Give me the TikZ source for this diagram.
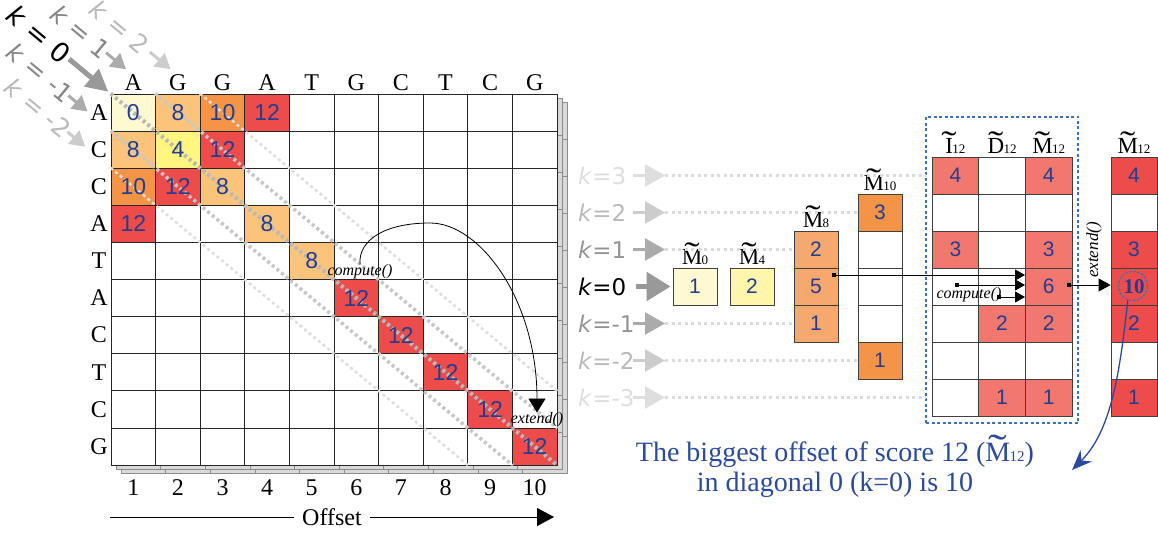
\documentclass[tikz,border=0pt]{standalone}
\usepackage{graphicx}
\usepackage{fontspec}
\setmainfont{Liberation Serif}
\setsansfont{Liberation Sans}
\newfontfamily\dejavu{DejaVu Sans}
\usepackage{xcolor}
\usepackage{tikz}
\usetikzlibrary{arrows.meta,positioning,calc}

\definecolor{numblue}{HTML}{233D8F}
\definecolor{txtblue}{HTML}{2B4A9C}
\definecolor{boxblue}{HTML}{3D72B8}
\definecolor{cream}{HTML}{FFF9D2}
\definecolor{lemon}{HTML}{FFF57F}
\definecolor{paleyel}{HTML}{FFF6AC}
\definecolor{lorange}{HTML}{FBC47A}
\definecolor{morange}{HTML}{F59447}
\definecolor{sorange}{HTML}{F7A86E}
\definecolor{salmon}{HTML}{F2786F}
\definecolor{hotred}{HTML}{EE4B4B}

% tilde symbol with small index
\newcommand{\tld}[3][13]{\ooalign{#2\cr\hidewidth\scalebox{2}[1.4]{\char"02DC}\hidewidth\cr}\kern-0.5pt{\fontsize{#1}{#1}\selectfont #3}}

\begin{document}
\begin{tikzpicture}[
    x=1pt, y=-1pt,
    cell/.style={draw=black!85, line width=0.8pt, minimum width=44.6pt, minimum height=37.1pt, inner sep=0pt, text=numblue, font=\sffamily\fontsize{23}{23}\selectfont},
    num/.style={inner sep=0pt, text=numblue, font=\sffamily\fontsize{23}{23}\selectfont},
    slot/.style={cell, draw=black!75, minimum width=44pt, minimum height=37pt, font=\sffamily\fontsize{21}{21}\selectfont},
    wslot/.style={slot, minimum width=46.7pt},
    base/.style={font=\fontsize{24}{24}\selectfont, inner sep=1pt},
    head/.style={font=\fontsize{23}{23}\selectfont, inner sep=1pt},
    fn/.style={font=\itshape\fontsize{16}{16}\selectfont, inner sep=0pt},
    diag/.style={line width=3.5pt, dash pattern=on 3pt off 3pt},
    kdiag/.style={font=\dejavu\fontsize{25}{25}\selectfont, inner sep=0pt, rotate=-39.8},
    kdarr/.style={-{Triangle[length=15pt,width=17pt]}, line width=3pt},
    krow/.style={font=\dejavu\fontsize{23}{23}\selectfont, inner sep=0pt, anchor=west},
    karr/.style={-{Triangle[length=20pt,width=22pt]}, line width=2.5pt},
    trail/.style={black!14, line width=3pt, dash pattern=on 3pt off 3.5pt},
    link/.style={{Square[length=4pt,width=4pt]}-{Triangle[length=10pt,width=11pt]}, line width=0.8pt},
]
\useasboundingbox (0,0) rectangle (1158,534);

% Stacked matrices behind
\foreach \dx/\dy in {10/8, 5/4} {
  \draw[black!45, fill=black!15, line width=0.8pt] ({111+\dx},{94+\dy}) rectangle ({557+\dx},{465+\dy});
  \foreach \i in {1,...,9} {
    \draw[black!45] ({111+44.6*\i+\dx},{94+\dy}) -- ++(0,371);
    \draw[black!45] ({111+\dx},{94+37.1*\i+\dy}) -- ++(446,0);
  }
}

% Matrix cells
\foreach \r in {1,...,10}
  \foreach \c in {1,...,10}
    \node[cell, fill=white] (m\r-\c) at ({111+44.6*(\c-0.5)},{94+37.1*(\r-0.5)}) {};

\foreach \r/\c/\f in {1/1/cream, 1/2/lorange, 1/3/morange, 1/4/hotred,
    2/1/lorange, 2/2/lemon, 2/3/hotred, 3/1/morange, 3/2/hotred, 3/3/lorange,
    4/1/hotred, 4/4/lorange, 5/5/lorange, 6/6/hotred, 7/7/hotred,
    8/8/hotred, 9/9/hotred, 10/10/hotred}
  \node[cell, fill=\f] (v\r-\c) at (m\r-\c) {};

% Diagonals
\coordinate (d0) at (m1-1.north west);  \coordinate (e0) at (m10-10.south east);
\coordinate (d1) at (m1-2.north west);  \coordinate (e1) at (m9-10.south east);
\coordinate (d2) at (m1-3.north west);  \coordinate (e2) at (m8-10.south east);
\coordinate (dm1) at (m2-1.north west); \coordinate (em1) at (m10-9.south east);
\coordinate (dm2) at (m3-1.north west); \coordinate (em2) at (m10-8.south east);
\draw[diag, black!13, line width=2.5pt] (d2) -- (e2);
\draw[diag, black!13, line width=2.5pt] (dm2) -- (em2);
\draw[diag, black!22] (d1) -- (e1);
\draw[diag, black!22] (dm1) -- (em1);
\draw[diag, black!28, line width=4pt] (d0) -- (e0);

% Scores
\foreach \r/\c/\v in {1/1/0, 1/2/8, 1/3/10, 1/4/12, 2/1/8, 2/2/4, 2/3/12, 3/1/10, 3/2/12, 3/3/8,
    4/1/12, 4/4/8, 5/5/8, 6/6/12, 7/7/12, 8/8/12, 9/9/12, 10/10/12}
  \node[num] (n\r-\c) at (m\r-\c) {\v};

% Sequences
\foreach \c/\b in {1/A,2/G,3/G,4/A,5/T,6/G,7/C,8/T,9/C,10/G}
  \node[base, anchor=base] (top\c) at ({111+44.6*(\c-0.5)},91) {\b};
\foreach \r/\b in {1/A,2/C,3/C,4/A,5/T,6/A,7/C,8/T,9/C,10/G}
  \node[base] (left\r) at (99,{94+37.1*(\r-0.5)}) {\b};
\foreach \c in {1,...,10}
  \node[base] (off\c) at ({111+44.6*(\c-0.5)},488) {\c};

% Offset axis
\node[base, inner xsep=8pt] (offset) at (332,517) {Offset};
\coordinate (axl) at (110,517);
\coordinate (axr) at (554,517);
\draw[line width=0.8pt] (axl) -- (offset.west);
\draw[line width=0.8pt, -{Triangle[length=17pt,width=18pt]}] (offset.east) -- (axr);

% Diagonal labels
\node[kdiag] (kl0) at ($(d0)!-93pt!(e0)$) {\fontsize{27}{27}\selectfont\textit{k} = 0};
\coordinate (kt0) at ($(d0)!-54pt!(e0)$);
\coordinate (kh0) at ($(d0)!-3pt!(e0)$);
\draw[kdarr, black!40, line width=5pt, -{Triangle[length=22pt,width=22pt]}] (kt0) -- (kh0);

\node[kdiag, text=black!47] (kl1) at ($(d1)!-97pt!(e1)$) {\textit{k} = 1};
\coordinate (kt1) at ($(d1)!-64pt!(e1)$);
\coordinate (kh1) at ($(d1)!-38pt!(e1)$);
\draw[kdarr, black!33] (kt1) -- (kh1);

\node[kdiag, text=black!27] (kl2) at ($(d2)!-104pt!(e2)$) {\textit{k} = 2};
\coordinate (kt2) at ($(d2)!-65pt!(e2)$);
\coordinate (kh2) at ($(d2)!-38pt!(e2)$);
\draw[kdarr, black!20] (kt2) -- (kh2);

\node[kdiag, text=black!47] (klm1) at ($(dm1)!-91pt!(em1)$) {\textit{k} = -1};
\coordinate (ktm1) at ($(dm1)!-55pt!(em1)$);
\coordinate (khm1) at ($(dm1)!-30pt!(em1)$);
\draw[kdarr, black!33] (ktm1) -- (khm1);

\node[kdiag, text=black!27] (klm2) at ($(dm2)!-94pt!(em2)$) {\textit{k} = -2};
\coordinate (ktm2) at ($(dm2)!-56pt!(em2)$);
\coordinate (khm2) at ($(dm2)!-33pt!(em2)$);
\draw[kdarr, black!20] (ktm2) -- (khm2);

% compute / extend in matrix
\node[fn] (cmp1) at (360,272) {compute()};
\node[fn] (ext1) at (537,420) {extend()};
\draw[line width=0.8pt, -{Triangle[length=14pt,width=17pt]}] (cmp1.north) .. controls (358,240) and (385,223) .. (430,223) .. controls (480,223) and (537,300) .. (ext1.north);

% Right: diagonal rows
\foreach \k/\tc in {3/black!13, 2/black!27, 1/black!42, -1/black!42, -2/black!27, -3/black!13} {
  \node[krow, text=\tc] (kr\k) at (578,{286.5-37*\k}) {\textit{k}=\k};
  \coordinate (kt\k) at (633,{286.5-37*\k});
  \coordinate (kh\k) at (665,{286.5-37*\k});
}
\node[krow] (kr0) at (578,286.5) {\textit{k}=0};

% Buffers
\node[slot, fill=cream] (m0) at (695,286.5) {1};
\node[slot, fill=paleyel] (m4) at (752,286.5) {2};
\node[slot, fill=sorange] (m8a) at (816,249.5) {2};
\node[slot, fill=sorange] (m8b) at (816,286.5) {5};
\node[slot, fill=sorange] (m8c) at (816,323.5) {1};
\node[slot, fill=morange] (m10a) at (880,212.5) {3};
\node[slot, fill=white] (m10b) at (880,249.5) {};
\node[slot, fill=white] (m10c) at (880,286.5) {};
\node[slot, fill=white] (m10d) at (880,323.5) {};
\node[slot, fill=morange] (m10e) at (880,360.5) {1};

\node[head, above=2pt of m0] (hm0) {\tld{M}{0}};
\node[head, above=2pt of m4] (hm4) {\tld{M}{4}};
\node[head, above=2pt of m8a] (hm8) {\tld{M}{8}};
\node[head, above=2pt of m10a] (hm10) {\tld{M}{10}};

% Group box
\node[draw=boxblue, line width=1.5pt, dash pattern=on 3pt off 2.5pt, minimum width=152pt, minimum height=306pt, inner sep=0pt] (grp) at (1002,270) {};
\foreach \k in {3,2,1,0,-1,-2,-3} {
  \node[wslot, fill=white] (bi\k) at (955.35,{286.5-37*\k}) {};
  \node[wslot, fill=white] (bd\k) at (1002.05,{286.5-37*\k}) {};
  \node[wslot, fill=white] (bm\k) at (1048.75,{286.5-37*\k}) {};
  \node[wslot, minimum width=46pt, fill=white] (rm\k) at (1134,{286.5-37*\k}) {};
}
\foreach \c/\k/\v in {i/3/4, m/3/4, i/1/3, m/1/3, m/0/6, d/-1/2, m/-1/2, d/-3/1, m/-3/1}
  \node[wslot, fill=salmon] (f\c\k) at (b\c\k) {\v};
\foreach \k/\v in {3/4, 1/3, 0/{\rmfamily\bfseries 10}, -1/2, -3/1}
  \node[wslot, minimum width=46pt, fill=hotred] (fr\k) at (rm\k) {\v};

\node[head, above=2pt of bi3] (hi12) {\tld{I}{12}};
\node[head, above=2pt of bd3] (hd12) {\tld{D}{12}};
\node[head, above=2pt of bm3] (hmm12) {\tld{M}{12}};
\node[head, above=2pt of rm3] (hr12) {\tld{M}{12}};

% Trails and arrows
\draw[trail] (kh3) -- (grp.west |- kh3);
\draw[trail] (kh2) -- (m10a.west);
\draw[trail] (kh1) -- (m8a.west);
\draw[trail] (kh-1) -- (m8c.west);
\draw[trail] (kh-2) -- (m10e.west);
\draw[trail] (kh-3) -- (grp.west |- kh-3);
\foreach \k/\ac in {3/black!13, 2/black!20, 1/black!33, -1/black!33, -2/black!20, -3/black!13}
  \draw[karr, \ac] (kt\k) -- (kh\k);
\coordinate (kt0) at (636,286.5);
\draw[karr, black!40, line width=5pt, -{Triangle[length=24pt,width=28pt]}, shorten >=2pt] (kt0) -- (m0.west);

% compute()
\coordinate (s8) at (832,275);
\coordinate (sI) at (955,285);
\coordinate (sD) at (997,297);
\node[fn] (cmp2) at (969,295) {compute()};
\draw[link] (s8) -- (bm0.west |- s8);
\draw[link] (sI) -- (bm0.west |- sI);
\draw[link] (sD) -- (bm0.west |- sD);

% extend()
\coordinate (s6) at (1067,285);
\draw[link, {Square[length=4pt,width=4pt]}-{Triangle[length=12pt,width=13pt]}] (s6) -- (rm0.west |- s6);
\node[fn, font=\itshape\fontsize{17}{17}\selectfont, rotate=90] (ext2) at (1094,250) {extend()};

% Result note
\node[circle, draw=boxblue, line width=1.3pt, dash pattern=on 2.5pt off 1.5pt, minimum size=29pt, inner sep=0pt] (ring) at (1133,286) {};
\node[text=txtblue, align=center, font=\fontsize{28}{30}\selectfont, inner sep=0pt] (msg) at (835,470) {The biggest offset of score 12 (\tld[15]{M}{12})\\in diagonal 0 (k=0) is 10};
\coordinate (note) at (1072,470);
\draw[txtblue, line width=1.3pt, -{Stealth[length=20pt,width=16pt]}] (ring.250) .. controls (1120,370) and (1112,430) .. (note);
\end{tikzpicture}
\end{document}
